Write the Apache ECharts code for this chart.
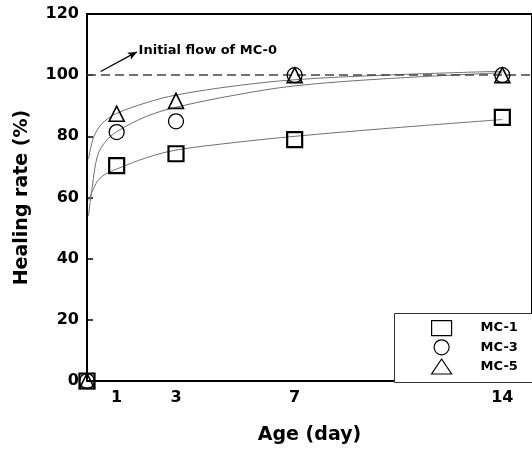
<!DOCTYPE html>
<html>
<head>
<meta charset="utf-8">
<script src="https://cdn.jsdelivr.net/npm/echarts@6/dist/echarts.min.js"></script>
<style>html,body{margin:0;padding:0;background:#fff}#c{width:532px;height:450px}</style>
</head>
<body>
<div id="c"></div>
<script>
// measured data
var days = [0, 1, 3, 7, 14];
var mc1 = [0, 70.4, 74.3, 78.9, 86.2];
var mc3 = [0, 81.4, 84.9, 100, 100];
var mc5 = [0, 87.4, 91.6, 100, 100];
// fitted curves
var fitDays = [0.05, 0.18, 0.35, 0.6, 1, 2, 3, 5, 7, 10, 14];
var fit1 = [59, 62, 65.3, 67.5, 69.3, 73, 75.5, 78, 80, 82.5, 85.5];
var fit3 = [54, 63.7, 73.5, 78, 81.5, 86.5, 89.5, 93.5, 96.5, 98.8, 100.8];
var fit5 = [72.5, 78.4, 82.2, 85, 87.5, 91, 93.5, 96.5, 98.5, 100, 101.3];
var xTicks = [1, 3, 7, 14];
var yTicks = [0, 20, 40, 60, 80, 100, 120];
var names = ['MC-1', 'MC-3', 'MC-5'];
var refLine = 100;
var annotation = 'Initial flow of MC-0';

function pairs(xs, ys) { return xs.map(function (x, i) { return [x, ys[i]]; }); }

var fontNum = 'DejaVu Sans';
var chart = echarts.init(document.getElementById('c'), null, {renderer: 'canvas'});

function scatter(name, vals, symbol, size, bw) {
  return {
    name: name, type: 'scatter', data: pairs(days, vals), symbol: symbol, symbolSize: size,
    itemStyle: {color: 'rgba(255,255,255,0)', borderColor: '#000', borderWidth: bw, opacity: 1},
    z: 5, clip: false
  };
}
function fit(vals) {
  return {
    type: 'line', data: pairs(fitDays, vals), showSymbol: false, symbol: 'none', smooth: 0.35,
    lineStyle: {color: '#707070', width: 1}, z: 3, silent: true
  };
}

chart.setOption({
  animation: false,
  grid: {left: 87, top: 14, right: -3, bottom: 68, show: true, borderColor: '#000', borderWidth: 2},
  xAxis: {
    type: 'value', min: 0, max: 15,
    axisLine: {show: true, onZero: false, lineStyle: {color: '#000', width: 2}},
    axisTick: {show: false},
    splitLine: {show: false},
    axisLabel: {customValues: xTicks, margin: 9, color: '#000', fontFamily: fontNum, fontWeight: 'bold', fontSize: 16},
    name: 'Age (day)', nameLocation: 'middle', nameGap: 45,
    nameTextStyle: {color: '#000', fontFamily: fontNum, fontWeight: 'bold', fontSize: 19}
  },
  yAxis: {
    type: 'value', min: 0, max: 120, interval: 20,
    axisLine: {show: true, lineStyle: {color: '#000', width: 2}},
    axisTick: {show: true, inside: true, length: 6, lineStyle: {color: '#000', width: 1.5}},
    splitLine: {show: false},
    axisLabel: {margin: 8, color: '#000', fontFamily: fontNum, fontWeight: 'bold', fontSize: 16},
    name: 'Healing rate (%)', nameLocation: 'middle', nameGap: 55,
    nameTextStyle: {color: '#000', fontFamily: fontNum, fontWeight: 'bold', fontSize: 19}
  },
  legend: {
    data: [{name: names[0], icon: 'rect'}, {name: names[1], icon: 'circle'}, {name: names[2], icon: 'triangle'}],
    orient: 'vertical', left: 426, top: 315, itemGap: 3, itemWidth: 20, itemHeight: 15,
    itemStyle: {borderWidth: 1.2, borderColor: '#000', color: 'rgba(255,255,255,0)', opacity: 1},
    textStyle: {color: '#000', fontFamily: fontNum, fontWeight: 'bold', fontSize: 13, padding: [0, 0, 0, 24]},
    selectedMode: false
  },
  graphic: [{
    type: 'rect', shape: {x: 394.5, y: 313.5, width: 140, height: 69},
    style: {fill: '#fff', stroke: '#333', lineWidth: 1}, z: 1
  }],
  series: [
    fit(fit1), fit(fit3), fit(fit5),
    scatter(names[0], mc1, 'rect', 15, 2.2),
    scatter(names[1], mc3, 'circle', 15, 1.3),
    scatter(names[2], mc5, 'triangle', 15, 1.6),
    {
      type: 'line', data: [], silent: true,
      markLine: {
        silent: true, animation: false, symbol: 'none', label: {show: false},
        data: [
          [{coord: [0, refLine], lineStyle: {type: [9, 5], color: '#444', width: 1.5}}, {coord: [15, refLine]}],
          [{coord: [0.46, 101.2], symbol: 'none', lineStyle: {type: 'solid', color: '#000', width: 1.3}},
           {coord: [1.68, 107.6], symbol: 'arrow', symbolSize: [6, 9],
            label: {show: true, position: 'end', formatter: annotation, color: '#000',
                    fontFamily: fontNum, fontWeight: 'bold', fontSize: 13, distance: 2}}]
        ]
      }
    }
  ]
});
</script>
</body>
</html>
